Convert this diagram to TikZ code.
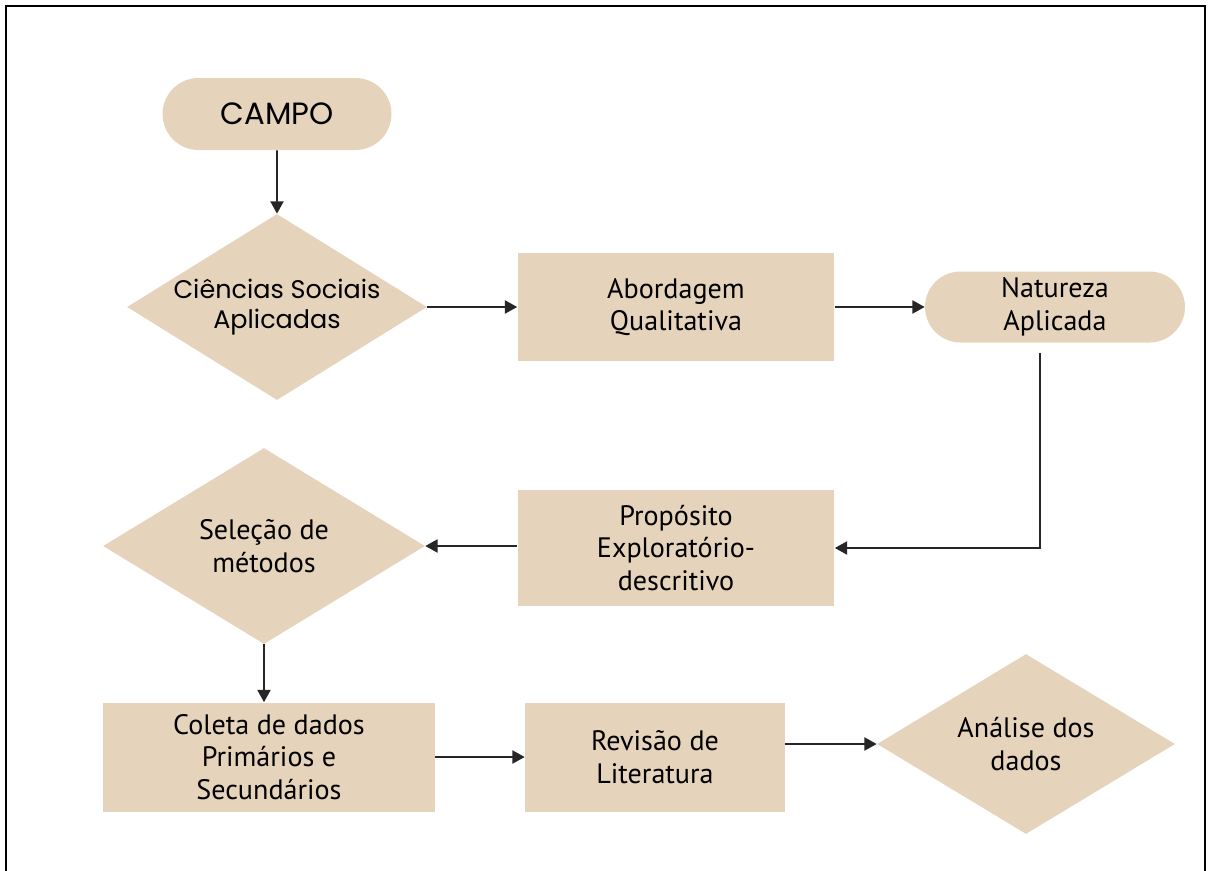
\documentclass[tikz,border=0pt]{standalone}
\usepackage{fontspec}
\setmainfont{PT Sans}
\newfontfamily\gothic{Poppins}
\usepackage{tikz}
\usetikzlibrary{shapes.geometric,shapes.misc,arrows.meta}
\definecolor{bege}{RGB}{229,212,187}

\begin{document}
\begin{tikzpicture}[x=0.02cm, y=-0.02cm, every text node part/.style={align=center},
  caixa/.style={rectangle, fill=bege, inner sep=0pt, font=\fontsize{16}{18.5}\selectfont},
  losango/.style={diamond, fill=bege, inner sep=0pt, aspect=1.6, font=\fontsize{16}{18.5}\selectfont},
  pilula/.style={rounded rectangle, fill=bege, inner sep=0pt, font=\fontsize{16}{18.5}\selectfont},
  seta/.style={-{Triangle[length=7pt,width=7.5pt]}, line width=0.9pt, black!85}]
\useasboundingbox (0,0) rectangle (1208,870);
\draw[line width=1.2pt] (6,900) -- (6,6) -- (1205,6) -- (1205,900);

\node [pilula, minimum width=4.58cm, minimum height=1.44cm, font=\gothic\fontsize{17.5}{20}\selectfont] (campo) at (277,114) {CAMPO};
\node [losango, minimum width=6cm, minimum height=3.7cm, font=\gothic\fontsize{14.5}{17.5}\selectfont] (ciencias) at (277,307) {Ciências Sociais\\Aplicadas};
\node [caixa, minimum width=6.34cm, minimum height=2.16cm] (abordagem) at (676,307) {Abordagem\\Qualitativa};
\node [pilula, minimum width=5.2cm, minimum height=1.42cm] (natureza) at (1055,307) {Natureza\\Aplicada};
\node [caixa, minimum width=6.34cm, minimum height=2.32cm] (proposito) at (676,548) {Propósito\\Exploratório-\\descritivo};
\node [losango, minimum width=6.44cm, minimum height=3.92cm] (selecao) at (264,546) {Seleção de\\métodos};
\node [caixa, minimum width=6.64cm, minimum height=2.18cm] (coleta) at (269,757) {Coleta de dados\\Primários e\\Secundários};
\node [caixa, minimum width=5.2cm, minimum height=2.18cm] (revisao) at (655,757) {Revisão de\\Literatura};
\node [losango, minimum width=5.96cm, minimum height=3.6cm] (analise) at (1026,744) {Análise dos\\dados};

\draw[seta] (campo) -- (ciencias);
\draw[seta] (ciencias) -- (abordagem);
\draw[seta] (abordagem) -- (natureza);
\draw[seta] ([xshift=-0.3cm, yshift=-0.2cm]natureza.south) |- (proposito.east);
\draw[seta] (proposito.west |- selecao.east) -- (selecao.east);
\draw[seta] (selecao.south) -- (selecao.south |- coleta.north);
\draw[seta] (coleta) -- (revisao);
\draw[seta] (revisao.east |- analise.west) -- (analise.west);

\end{tikzpicture}
\end{document}
